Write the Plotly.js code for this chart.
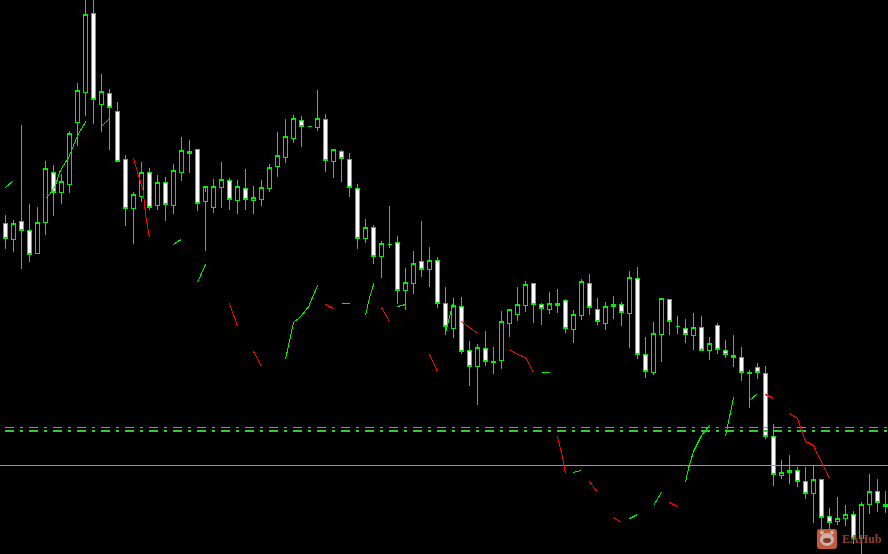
<!DOCTYPE html>
<html><head><meta charset="utf-8">
<script src="https://cdn.plot.ly/plotly-3.0.1.min.js"></script>
<style>html,body{margin:0;padding:0;background:#000;overflow:hidden}#c{width:888px;height:554px}
.scatterlayer path,.boxlayer path{shape-rendering:crispEdges !important}</style>
</head><body><div id="c"></div>
<script>
// Price level per bar, bars are numbered from the left.
var opens=[331,315,333,324,301,332,382,362,370,432,462,541,450,461,443,395,346,358,382,349,372,349,382,403,405,353,347,367,374,354,366,354,355,366,388,397,416,434,428,427,435,393,403,395,366,316,327,298,310,312,264,271,293,285,294,251,226,248,204,188,206,192,194,231,240,249,271,250,245,249,254,225,239,271,245,231,248,250,241,276,200,182,220,255,228,226,219,227,204,229,204,199,197,182,187,181,118,79,82,84,73,61,75,38,33,36,40,16,50,63,50],
    highs=[340,335,430,351,348,394,390,381,424,472,560,565,481,466,453,400,363,393,387,380,378,391,418,415,406,363,376,393,377,375,386,369,375,391,423,436,440,439,428,465,441,406,405,402,371,336,330,314,349,319,287,304,334,308,298,268,257,258,214,211,224,208,244,244,268,274,272,252,263,266,256,245,276,281,257,253,259,253,284,288,218,233,256,256,239,236,242,239,218,232,215,220,208,185,192,189,131,95,100,88,88,90,76,47,58,50,44,53,81,76,64],
    lows=[306,303,286,293,301,320,339,351,362,409,439,431,423,405,393,329,311,353,345,345,334,341,374,382,344,304,342,347,345,341,345,341,349,363,378,392,412,408,428,424,383,377,373,358,306,312,291,277,307,251,245,261,278,268,247,220,217,201,169,150,189,181,186,218,234,243,232,230,241,242,222,212,235,240,230,225,236,229,207,196,177,180,193,220,221,212,205,207,195,201,197,188,174,147,176,116,69,76,71,68,56,32,17,17,30,29,11,-5,41,43,42],
    closes=[316,331,324,300,332,386,362,373,421,464,540,455,463,447,393,346,360,382,347,372,350,384,404,401,351,368,368,375,355,368,355,357,367,387,399,418,436,428,428,436,394,405,396,367,316,327,298,311,310,264,272,291,285,294,251,228,249,203,188,207,193,193,233,245,250,270,250,246,251,251,226,240,273,247,233,248,250,242,277,200,183,221,256,233,228,220,227,204,211,205,200,197,182,181,182,118,80,82,84,73,61,75,37,32,36,40,16,50,63,52,48];

// Indicator fragments: bar position and level.
var greenX=[[0,0.5,1],[5,5.6,6.25,6.75,7.25,7.9,9,10.1],[12,12.9],[21,21.5,22],[24,25],[35,35.4,36,36.9,37.9,39],[42,43],[45,45.5,46.1],[49,49.4,50],[55,55.4,55.6,56],[67,68],[71,71.3,72],[78,79],[81,82],[85,85.4,86,87,88],[90,90.5,91],[93,94]],
    greenY=[[367,371,374],[356,361,369,382,389,397,419,434],[428,435],[310,313,315],[272,290],[195,211,232,238,248,269],[251,251],[239,257,272],[248,249,250],[222,236,241,252],[182,182],[82,83,84],[36,40],[49,62],[72,87,103,119,129],[118,139,157],[154,161]];
var redX=[[16,16.6,17.2,17.5,18],[28,28.5,29],[31,32],[40,41],[47,48],[53,54],[57,57.9,59],[63,64,65,66],[69,69.5,70],[73,74],[76,77],[83,84],[95,96],[98,99,100,101,103]],
    redY=[[396,379,364,341,317],[251,239,228],[203,188],[250,246],[247,233],[200,183],[233,228,221],[205,200,197,182],[118,102,81],[73,62],[37,32],[52,48],[160,156],[141,136,113,109,76]];

var greyLevel=[89,89];
var dashLevels=[127,123.5];
var dashWidths=[1,2];

var n=opens.length, bars=[];
for(var i=0;i<n;i++) bars.push(i);
var GREEN='#00ee00';
var traces=[];
traces.push({type:'scatter',mode:'lines',x:[-1,111],y:greyLevel,line:{color:'#969696',width:1},hoverinfo:'skip'});
dashLevels.forEach(function(l,k){
  traces.push({type:'scatter',mode:'lines',x:[-0.0625,111],y:[l,l],line:{color:'#32cd32',width:dashWidths[k],dash:'9px,6px,3px,6px'},hoverinfo:'skip'});
});
greenX.forEach(function(x,k){traces.push({type:'scatter',mode:'lines',x:x,y:greenY[k],line:{color:GREEN,width:1},hoverinfo:'skip'});});
traces.push({type:'candlestick',x:bars,open:opens,high:highs,low:lows,close:closes,whiskerwidth:0,
  increasing:{line:{color:GREEN,width:1},fillcolor:'#000000'},
  decreasing:{line:{color:GREEN,width:1},fillcolor:'#ffffff'},hoverinfo:'skip'});
redX.forEach(function(x,k){traces.push({type:'scatter',mode:'lines',x:x,y:redY[k],line:{color:'#ff0000',width:1},hoverinfo:'skip'});});

function px(x){return (x/888).toFixed(4);}
function py(y){return (1-y/554).toFixed(4);}
function rrect(x0,y0,x1,y1,r){
  return 'M'+px(x0+r)+','+py(y0)+' L'+px(x1-r)+','+py(y0)+' Q'+px(x1)+','+py(y0)+' '+px(x1)+','+py(y0+r)+
    ' L'+px(x1)+','+py(y1-r)+' Q'+px(x1)+','+py(y1)+' '+px(x1-r)+','+py(y1)+
    ' L'+px(x0+r)+','+py(y1)+' Q'+px(x0)+','+py(y1)+' '+px(x0)+','+py(y1-r)+
    ' L'+px(x0)+','+py(y0+r)+' Q'+px(x0)+','+py(y0)+' '+px(x0+r)+','+py(y0)+' Z';
}
function blob(x0,y0,x1,y1,c){
  return {type:'circle',xref:'paper',yref:'paper',layer:'above',x0:+px(x0),x1:+px(x1),y0:+py(y1),y1:+py(y0),fillcolor:c,line:{width:0}};
}
var layout={width:888,height:554,margin:{l:0,r:0,t:0,b:0},paper_bgcolor:'#000',plot_bgcolor:'#000',showlegend:false,boxmode:'overlay',boxgap:0.5,boxgroupgap:0,
  xaxis:{range:[-0.6875,110.3125],visible:false,rangeslider:{visible:false},fixedrange:true},
  yaxis:{range:[0.5,554.5],visible:false,fixedrange:true},
  shapes:[
    {type:'path',xref:'paper',yref:'paper',layer:'above',path:rrect(817,529,837,549,3),fillcolor:'#c4583a',line:{width:0}},
    blob(820,530.5,824,534.5,'#c9b3a8'),
    blob(830,530.5,834,534.5,'#c9b3a8'),
    blob(820,533,834,546,'#c9b3a8'),
    blob(823,538,831,543,'#7c3a2c')
  ],
  annotations:[{xref:'paper',yref:'paper',x:842/888,y:1-539/554,xanchor:'left',yanchor:'middle',xshift:-2,text:'<b>EAHub</b>',showarrow:false,font:{family:'Liberation Serif',size:12,color:'#8f4030'}}]
};
Plotly.newPlot('c',traces,layout,{displayModeBar:false,staticPlot:true});
</script></body></html>
